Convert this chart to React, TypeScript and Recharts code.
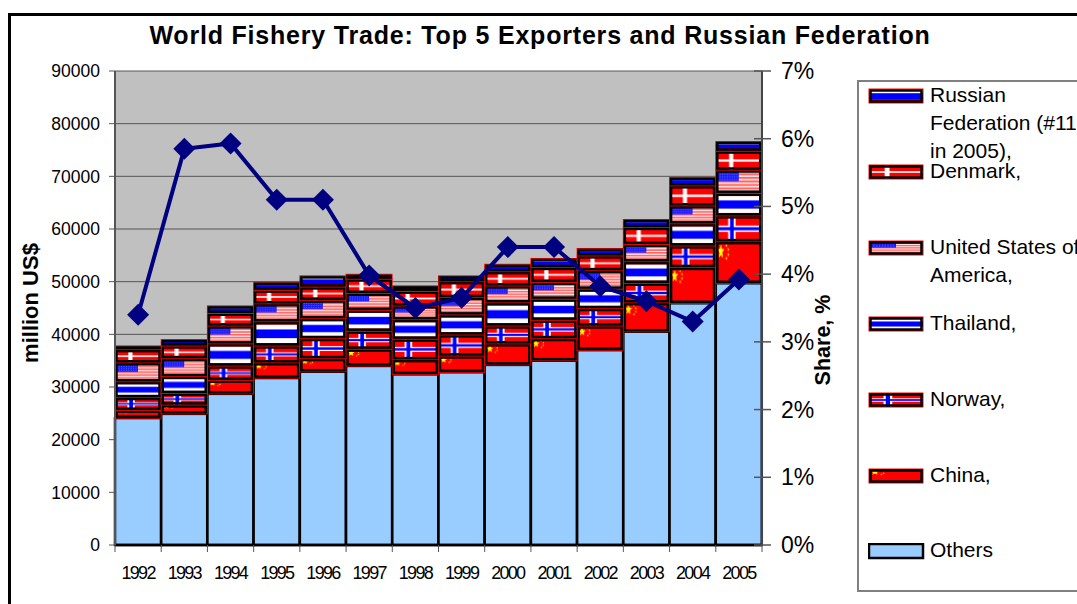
import React from 'react';
import { ComposedChart, Bar, Line, XAxis, YAxis, CartesianGrid, Legend } from 'recharts';

const years = ['1992','1993','1994','1995','1996','1997','1998','1999','2000','2001','2002','2003','2004','2005'];
const others = [24100,24900,28700,31700,32900,34000,32400,32800,34200,35000,37000,40500,45900,49700];
const china = [1500,1700,2600,2900,2500,3200,2800,3100,4000,4200,4600,5500,6800,7900];
const norway = [2400,2200,2700,3200,3800,3400,3900,4000,3400,3500,3300,3700,4100,4900];
const thailand = [3000,3200,4200,4600,3800,4000,3700,3800,4400,4000,3700,4100,4200,4300];
const usa = [3600,3400,3400,3400,3500,3200,2600,3300,3200,3200,3500,3300,3400,4400];
const denmark = [2500,2400,2400,2600,2500,2700,2800,3000,2700,2800,2800,3200,3800,3600];
const russia = [700,1200,1400,1500,2100,900,1000,1100,1400,1700,1400,1500,1600,1800];
const share = [0.034,0.0585,0.0593,0.051,0.051,0.0398,0.035,0.0365,0.044,0.044,0.0382,0.036,0.033,0.0392];

const leftTicks = [0,10000,20000,30000,40000,50000,60000,70000,80000,90000];
const rightTicks = [0,0.01,0.02,0.03,0.04,0.05,0.06,0.07];

const seriesKeys = ['others','china','norway','thailand','usa','denmark','russia'];
const seriesNames = ['Others','China','Norway','Thailand','United States of America','Denmark','Russian Federation'];
const seriesFills = ['#99ccff','url(#flagCN)','url(#flagNO)','url(#flagTH)','url(#flagUS)','url(#flagDK)','url(#flagRU)'];
const legendLabels = ['Russian\nFederation (#11\nin 2005),','Denmark,','United States of\nAmerica,','Thailand,','Norway,','China,','Others'];
const legendFills = ['url(#flagRU)','url(#flagDK)','url(#flagUS)','url(#flagTH)','url(#flagNO)','url(#flagCN)','#99ccff'];

const columns = [others,china,norway,thailand,usa,denmark,russia];
const rows = years.map((year,i)=>{
  const row: any = { year, share: share[i] };
  seriesKeys.forEach((k,j)=>{ row[k]=columns[j][i]; });
  return row;
});

const FONT = '"Liberation Sans", Arial, sans-serif';
const NAVY = '#000080';

const star = (cx:number,cy:number,rx:number,ry:number) => {
  const p:string[]=[];
  for(let i=0;i<10;i++){
    const a=-Math.PI/2+i*Math.PI/5;
    const f=i%2===0?1:0.42;
    p.push(`${cx+rx*f*Math.cos(a)},${cy+ry*f*Math.sin(a)}`);
  }
  return p.join(' ');
};

const Flag = ({id,children}:{id:string;children:React.ReactNode}) => (
  <pattern id={id} x="0" y="0" width="1" height="1" patternUnits="objectBoundingBox" viewBox="0 0 100 100" preserveAspectRatio="none">
    {children}
  </pattern>
);

const FlagDefs = () => (
  <defs>
    <Flag id="flagRU">
      <rect width="100" height="100" fill="#ff0000"/>
      <rect width="100" height="36" fill="#ffffff"/>
      <rect y="30" width="100" height="45" fill="#0000ff"/>
    </Flag>
    <Flag id="flagDK">
      <rect width="100" height="100" fill="#ff0000"/>
      <rect x="29" width="9" height="100" fill="#ffffff"/>
      <rect y="44" width="100" height="12" fill="#ffffff"/>
    </Flag>
    <Flag id="flagUS">
      <rect width="100" height="100" fill="#ff6060"/>
      {[0,1,2,3,4,5,6].map(i=><rect key={i} y={7.7+i*15.4} width="100" height="6" fill="#ffffff"/>)}
      <rect width="50" height="48" fill="#1a1aff"/>
      {[0,1,2,3,4,5,6,7,8].map(i=>[0,1,2,3].map(j=>(
        <rect key={i+'-'+j} x={3+i*5.2} y={5+j*11} width="2" height="4" fill="#6a80ff"/>
      )))}
    </Flag>
    <Flag id="flagTH">
      <rect width="100" height="100" fill="#ff0000"/>
      <rect y="12" width="100" height="76" fill="#ffffff"/>
      <rect y="32" width="100" height="36" fill="#0000ff"/>
    </Flag>
    <Flag id="flagNO">
      <rect width="100" height="100" fill="#ff0000"/>
      <rect x="27" width="16" height="100" fill="#ffffff"/>
      <rect y="38" width="100" height="24" fill="#ffffff"/>
      <rect x="31" width="8" height="100" fill="#0000ff"/>
      <rect y="44" width="100" height="12" fill="#0000ff"/>
    </Flag>
    <Flag id="flagCN">
      <rect width="100" height="100" fill="#ff0000"/>
      <polygon points={star(11,24,8,19)} fill="#ffff00"/>
      <polygon points={star(23,9,2.2,5)} fill="#ffff00"/>
      <polygon points={star(27,19,2.2,5)} fill="#ffff00"/>
      <polygon points={star(27,31,2.2,5)} fill="#ffff00"/>
      <polygon points={star(23,40,2.2,5)} fill="#ffff00"/>
    </Flag>
  </defs>
);

const StackBlock = (props:any) => {
  const {x,y,width,height,fill} = props;
  const isFlag = String(fill).startsWith('url');
  const inset = isFlag ? 1.5 : 0;
  return (
    <g>
      <rect x={x} y={y} width={width} height={height} fill={fill}/>
      {isFlag && <rect x={x} y={y} width={width} height={height} fill="none" stroke="#ff0000" strokeWidth={1}/>}
      <rect x={x+inset} y={y+inset} width={width-2*inset} height={Math.max(0,height-2*inset)} fill="none" stroke="#000000" strokeWidth={2.5}/>
    </g>
  );
};

const Diamond = (props:any) => {
  const {cx,cy} = props;
  return <polygon points={`${cx-11},${cy} ${cx},${cy-11} ${cx+11},${cy} ${cx},${cy+11}`} fill={NAVY}/>;
};

const YearTick = (props:any) => {
  const {x,y,payload,index} = props;
  const band = 647/14;
  return (
    <g>
      <line x1={x-band/2} x2={x-band/2} y1={y} y2={y+7} stroke="#555555"/>
      {index===years.length-1 && <line x1={x+band/2} x2={x+band/2} y1={y} y2={y+7} stroke="#555555"/>}
      <text x={x} y={y+34} textAnchor="middle" fontSize={18} letterSpacing={-1.7} fontFamily={FONT} fill="#000">{payload.value}</text>
    </g>
  );
};

const PercentTick = (props:any) => {
  const {y,payload} = props;
  const axisX = 762;
  return (
    <g>
      <line x1={axisX-8} x2={axisX+9} y1={y} y2={y} stroke="#555555" strokeWidth={1.5}/>
      <text x={781} y={y+8} fontSize={23} fontFamily={FONT} fill="#000">{Math.round(payload.value*100)}%</text>
    </g>
  );
};

const LegendBox = () => (
  <div style={{position:'relative',width:240,height:508,border:'2px solid #808080',background:'#fff',fontFamily:FONT,color:'#000',fontSize:21}}>
    {legendLabels.map((label,i)=>(
      <div key={label} style={{position:'absolute',left:0,top:i*75.9}}>
        <svg width={60} height={20} style={{position:'absolute',left:9,top:6}}>
          <StackBlock x={1} y={1} width={54} height={14} fill={legendFills[i]}/>
        </svg>
        <div style={{position:'absolute',left:71,top:-1,lineHeight:'28px',whiteSpace:'pre'}}>{label}</div>
      </div>
    ))}
  </div>
);

export default function App(){
  return (
    <div style={{position:'absolute',left:0,top:0,width:1077,height:604,overflow:'hidden',background:'#fff'}}>
      <div style={{position:'absolute',left:8,top:13,width:1100,height:620,borderLeft:'3px solid #000',borderTop:'3px solid #000'}}/>
      <div style={{position:'absolute',left:0,top:0}}>
      <ComposedChart width={1077} height={604} data={rows} margin={{top:71,right:0,bottom:0,left:0}} barCategoryGap={0} barGap={0}>
        <FlagDefs/>
        <text x={540} y={44} textAnchor="middle" fontSize={25} letterSpacing={0.8} fontWeight="bold" fontFamily={FONT} fill="#000">World Fishery Trade: Top 5 Exporters and Russian Federation</text>
        <CartesianGrid horizontal vertical={false} fill="#c0c0c0" stroke="#555555" syncWithTicks yAxisId="left"/>
        <XAxis dataKey="year" height={59} tick={<YearTick/>} tickLine={false} tickSize={0} tickMargin={0} axisLine={{stroke:'#000',strokeWidth:2.5}} interval={0}/>
        <YAxis yAxisId="left" width={115} domain={[0,90000]} ticks={leftTicks} interval={0} tickSize={6} tickMargin={9}
          tick={{fontSize:17.5,fontFamily:FONT,fill:'#000'}} tickLine={{stroke:'#555555'}} axisLine={{stroke:'#555555',strokeWidth:2}}
          label={{value:'million US$',angle:-90,position:'insideLeft',offset:30,dy:-5,style:{fontSize:22,fontWeight:'bold',fontFamily:FONT,fill:'#000',textAnchor:'middle'}}}/>
        <YAxis yAxisId="right" orientation="right" width={315} domain={[0,0.07]} ticks={rightTicks} interval={0} tick={<PercentTick/>} tickLine={false} axisLine={{stroke:'#444444',strokeWidth:2}}
          label={{value:'Share, %',angle:-90,position:'insideLeft',offset:60,dy:32,style:{fontSize:21.5,fontWeight:'bold',fontFamily:FONT,fill:'#000',textAnchor:'middle'}}}/>
        {seriesKeys.map((k,i)=>(
          <Bar key={k} yAxisId="left" dataKey={k} name={seriesNames[i]} stackId="trade" fill={seriesFills[i]} shape={<StackBlock/>} isAnimationActive={false}/>
        ))}
        <Line yAxisId="right" dataKey="share" name="Share" stroke={NAVY} strokeWidth={4} dot={<Diamond/>} activeDot={false} legendType="none" isAnimationActive={false}/>
        <Legend content={<LegendBox/>} layout="vertical" align="center" verticalAlign="middle" wrapperStyle={{position:'absolute',left:857,top:80,width:244,height:512,bottom:'auto',right:'auto'}}/>
      </ComposedChart>
      </div>
    </div>
  );
}
